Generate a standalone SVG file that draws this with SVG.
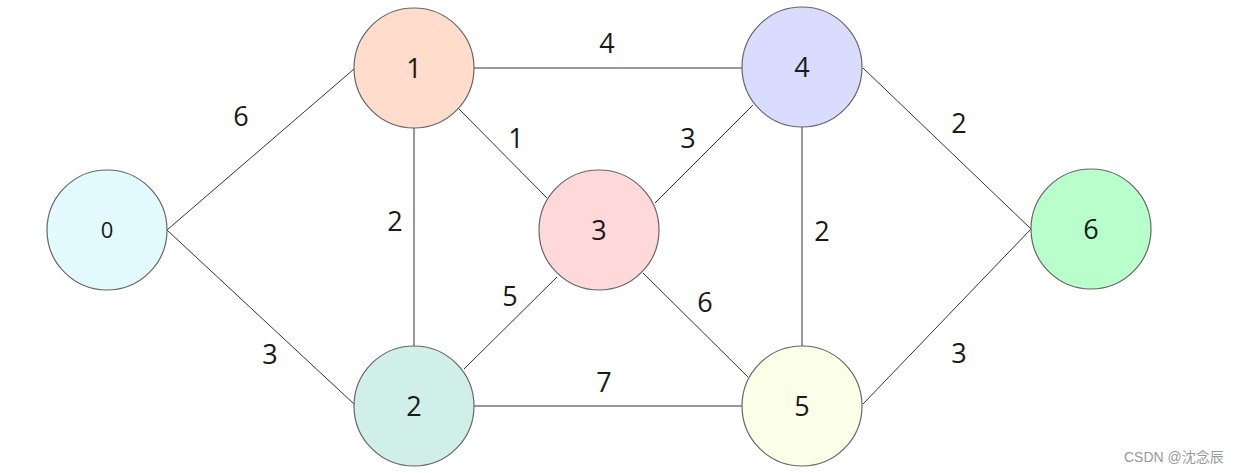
<svg xmlns="http://www.w3.org/2000/svg" width="1240" height="473" viewBox="0 0 1240 473">
<style>
.n{stroke:#666;stroke-width:1.2}
.e{stroke:#333;stroke-width:1;fill:none}
.t{font-family:"Open Sans","Noto Sans",sans-serif;font-size:27px;fill:#1a1a1a;text-anchor:middle}
.wm{font-family:"Liberation Sans","Noto Sans CJK SC",sans-serif;font-size:14px;fill:#999}
</style>
<rect width="1240" height="473" fill="#fff"/>
<g id="connectors">
<line class="e" x1="167" y1="230" x2="354" y2="69"/>
<line class="e" x1="167" y1="230" x2="354" y2="404"/>
<line class="e" x1="474" y1="68" x2="742" y2="68"/>
<line class="e" x1="414" y1="128" x2="414" y2="346"/>
<line class="e" x1="458" y1="108" x2="547" y2="198"/>
<line class="e" x1="464" y1="369" x2="557" y2="277"/>
<line class="e" x1="474" y1="406" x2="742" y2="406"/>
<line class="e" x1="655" y1="203" x2="753" y2="105"/>
<line class="e" x1="643" y1="273" x2="748" y2="377"/>
<line class="e" x1="802" y1="127" x2="802" y2="346"/>
<line class="e" x1="863" y1="68" x2="1031" y2="229"/>
<line class="e" x1="863" y1="404" x2="1031" y2="229"/>
<text class="t" x="241" y="126">6</text>
<text class="t" x="270" y="364">3</text>
<text class="t" x="607" y="53">4</text>
<text class="t" x="516" y="148">1</text>
<text class="t" x="395" y="231">2</text>
<text class="t" x="688" y="148">3</text>
<text class="t" x="510" y="306">5</text>
<text class="t" x="705" y="312">6</text>
<text class="t" x="604" y="392">7</text>
<text class="t" x="822" y="241">2</text>
<text class="t" x="959" y="133">2</text>
<text class="t" x="959" y="363">3</text>
</g>
<g id="node0"><circle class="n" cx="107" cy="230" r="60" fill="#e3fbff"/><text class="t" x="107" y="238" style="font-size:22px">0</text></g>
<g id="node1"><circle class="n" cx="414" cy="68" r="60" fill="#ffdccc"/><text class="t" x="414" y="78">1</text></g>
<g id="node2"><circle class="n" cx="414" cy="406" r="60" fill="#d0efe8"/><text class="t" x="414" y="416">2</text></g>
<g id="node3"><circle class="n" cx="599" cy="230" r="60" fill="#ffd9d9"/><text class="t" x="599" y="240">3</text></g>
<g id="node4"><circle class="n" cx="802" cy="67" r="60" fill="#d9dcff"/><text class="t" x="802" y="77">4</text></g>
<g id="node5"><circle class="n" cx="802" cy="406" r="60" fill="#fcffe8"/><text class="t" x="802" y="416">5</text></g>
<g id="node6"><circle class="n" cx="1091" cy="229" r="60" fill="#b8ffcc"/><text class="t" x="1091" y="239">6</text></g>
<text class="wm" x="1124" y="462">CSDN @沈念辰</text>
</svg>
